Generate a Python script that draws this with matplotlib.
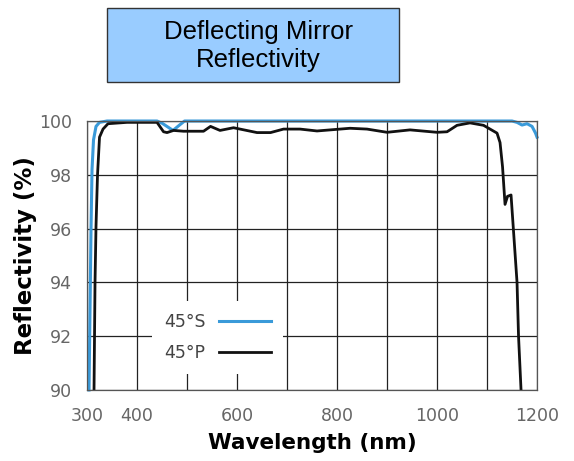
import matplotlib.pyplot as plt
from matplotlib.patches import Rectangle

# 45 deg S polarisation
s_wl = [304, 306, 308, 310, 313, 318, 325, 340, 440, 450, 472, 485, 495, 1150, 1160, 1170, 1180, 1190, 1197, 1200]
s_refl = [90.0, 93.0, 96.0, 98.2, 99.3, 99.8, 99.95, 100.0, 100.0, 99.92, 99.65, 99.85, 100.0, 100.0, 99.95, 99.85, 99.9, 99.8, 99.55, 99.4]

# 45 deg P polarisation
p_wl = [314, 316, 318, 321, 325, 332, 342, 380, 440, 453, 460, 473, 493, 533, 547, 566, 593, 640, 667, 693,
        726, 760, 826, 860, 900, 946, 1000, 1020, 1040, 1066, 1093, 1120, 1126, 1131, 1136, 1141, 1148, 1153,
        1160, 1163, 1168]
p_refl = [90.0, 94.0, 96.1, 98.0, 99.4, 99.7, 99.9, 99.95, 99.95, 99.6, 99.57, 99.65, 99.62, 99.62, 99.8, 99.65,
          99.75, 99.57, 99.57, 99.7, 99.7, 99.63, 99.73, 99.7, 99.58, 99.67, 99.58, 99.6, 99.84, 99.93, 99.84,
          99.55, 99.2, 98.3, 96.9, 97.2, 97.25, 95.9, 94.0, 92.0, 90.0]

xticks = [300, 400, 600, 800, 1000, 1200]
yticks = [90, 92, 94, 96, 98, 100]

fig = plt.figure(figsize=(5.74, 4.61), dpi=100)
ax = fig.add_axes([0.1516, 0.154, 0.784, 0.5835])

ax.plot(s_wl, s_refl, color='#3a9ad9', lw=2.2, label='45°S', clip_on=False)
ax.plot(p_wl, p_refl, color='#111111', lw=2.0, label='45°P')

ax.set_xlim(300, 1200)
ax.set_ylim(90, 100)
ax.set_xticks(xticks)
ax.set_xticks(range(300, 1201, 100), minor=True)
ax.set_yticks(yticks)
ax.grid(True, which='both', color='#222222', lw=0.9)
ax.tick_params(which='both', length=0, labelsize=12.5, labelcolor='#666666')
ax.tick_params(axis='y', pad=11)
ax.tick_params(axis='x', pad=12)
for sp in ax.spines.values():
    sp.set_color('#555555')
    sp.set_linewidth(0.9)

ax.set_xlabel('Wavelength (nm)', fontsize=15.5, fontweight='bold', labelpad=6)
ax.set_ylabel('Reflectivity (%)', fontsize=16.5, fontweight='bold', labelpad=1)

leg = ax.legend(loc='center', bbox_to_anchor=(0.29, 0.195), markerfirst=False, fontsize=12.5,
                frameon=True, handlelength=3.0, labelspacing=0.75, borderpad=0.7)
leg.get_frame().set_facecolor('white')
leg.get_frame().set_edgecolor('none')
leg.get_frame().set_alpha(1)
for t in leg.get_texts():
    t.set_color('#444444')

# title box
fig.patches.append(Rectangle((107 / 574, 1 - 82 / 461), 292 / 574, 74 / 461, transform=fig.transFigure,
                             facecolor='#99ccff', edgecolor='#333333', lw=1))
fig.text(258 / 574, 1 - 46 / 461, 'Deflecting Mirror\nReflectivity', ha='center', va='center',
         fontsize=18.5, family='Liberation Sans', linespacing=1.2)

fig.savefig('out.png', dpi=100)
